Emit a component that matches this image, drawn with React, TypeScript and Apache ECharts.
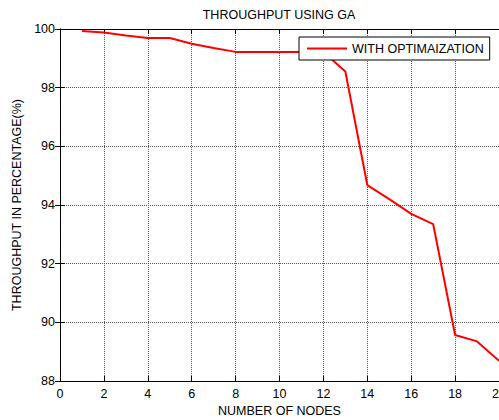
import React, { useEffect, useRef } from "react";
import * as echarts from "echarts";

const nodes = [1, 2, 3, 4, 5, 6, 7, 8, 9, 10, 11, 12, 13, 14, 15, 16, 17, 18, 19, 20];
const throughput = [99.93, 99.88, 99.78, 99.69, 99.69, 99.5, 99.35, 99.22, 99.22, 99.22, 99.22, 99.22, 98.55, 94.68, 94.2, 93.7, 93.35, 89.57, 89.35, 88.69];
const seriesName = "WITH OPTIMAIZATION";
const titleText = "THROUGHPUT USING GA";
const xName = "NUMBER OF NODES";
const yName = "THROUGHPUT IN PERCENTAGE(%)";

const FONT = "'Liberation Sans', Arial, sans-serif";

export default function App() {
  const ref = useRef<HTMLDivElement>(null);
  useEffect(() => {
    if (!ref.current) return;
    const chart = echarts.init(ref.current, null, { renderer: "svg" });
    const tick = { show: true, inside: true, length: 5, lineStyle: { color: "#000" } };
    const axisLine = { show: true, lineStyle: { color: "#000", width: 1 } };
    const split = { show: true, lineStyle: { color: "#555", type: [1, 1] as any, width: 1 } };
    chart.setOption({
      animation: false,
      backgroundColor: "#fff",
      title: {
        text: titleText,
        left: 279,
        top: 8,
        padding: 0,
        textAlign: "center",
        textStyle: { fontFamily: FONT, fontSize: 12.5, fontWeight: "normal", color: "#000" },
      },
      legend: {
        data: [seriesName],
        left: 299,
        top: 37,
        padding: [5, 6, 5, 8],
        borderColor: "#000",
        borderWidth: 1,
        backgroundColor: "#fff",
        borderRadius: 0,
        itemWidth: 40,
        itemHeight: 2,
        icon: "rect",
        textStyle: { fontFamily: FONT, fontSize: 12.5, color: "#000" },
      },
      grid: { left: 60, right: 0, top: 29, bottom: 39, containLabel: false, outerBoundsMode: "none" },
      xAxis: [
        {
          type: "value",
          min: 0,
          max: 20,
          interval: 2,
          name: xName,
          nameLocation: "middle",
          nameGap: 23,
          nameTextStyle: { fontFamily: FONT, fontSize: 12.5, color: "#000" },
          axisLine,
          axisTick: tick,
          axisLabel: { fontFamily: FONT, fontSize: 12.5, color: "#000", margin: 6 },
          splitLine: split,
        },
        {
          type: "value",
          position: "top",
          min: 0,
          max: 20,
          interval: 2,
          axisLine,
          axisTick: tick,
          axisLabel: { show: false },
          splitLine: { show: false },
        },
      ],
      yAxis: [
        {
          type: "value",
          min: 88,
          max: 100,
          interval: 2,
          name: yName,
          nameLocation: "middle",
          nameGap: 35,
          nameTextStyle: { fontFamily: FONT, fontSize: 12.5, color: "#000" },
          axisLine,
          axisTick: tick,
          axisLabel: { fontFamily: FONT, fontSize: 12.5, color: "#000", margin: 5 },
          splitLine: split,
        },
        {
          type: "value",
          position: "right",
          min: 88,
          max: 100,
          interval: 2,
          axisLine,
          axisTick: tick,
          axisLabel: { show: false },
          splitLine: { show: false },
        },
      ],
      series: [
        {
          name: seriesName,
          type: "line",
          data: nodes.map((n, i) => [n, throughput[i]]),
          symbol: "none",
          showSymbol: false,
          lineStyle: { color: "#ff0000", width: 2 },
          itemStyle: { color: "#ff0000" },
          z: 3,
        },
      ],
    });
    return () => chart.dispose();
  }, []);
  return (
    <div
      ref={ref}
      style={{ position: "fixed", left: 0, top: 0, width: 499, height: 420, background: "#fff" }}
    />
  );
}
